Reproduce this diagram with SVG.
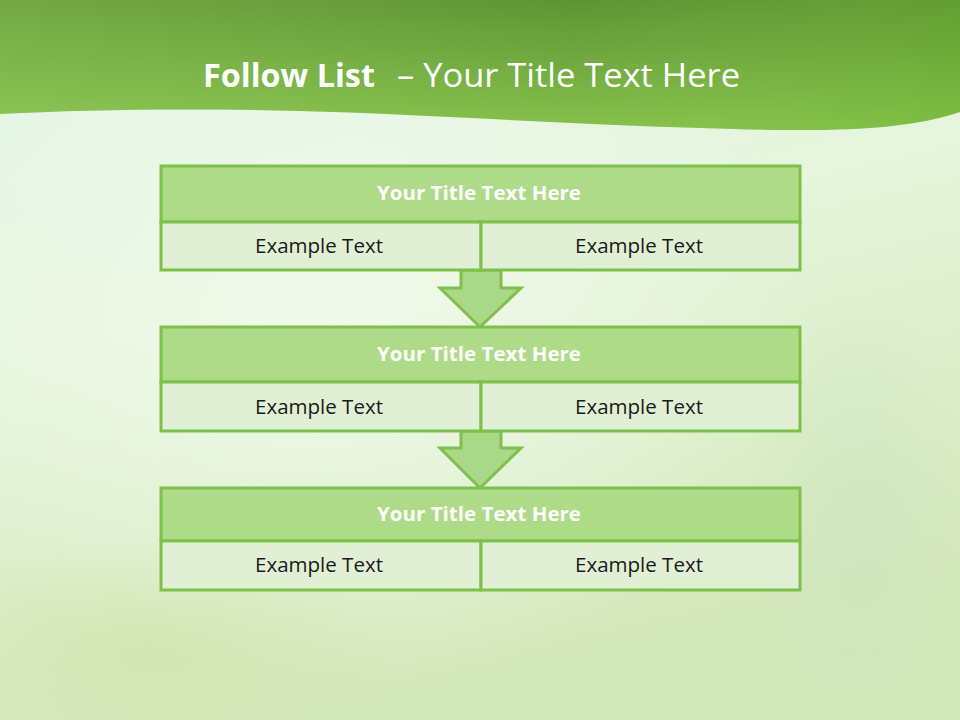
<svg xmlns="http://www.w3.org/2000/svg" width="960" height="720" viewBox="0 0 960 720">
<defs>
<linearGradient id="bg" x1="0" y1="0" x2="0.3" y2="1">
<stop offset="0" stop-color="#E2F5EA"/>
<stop offset="0.45" stop-color="#E6F5DC"/>
<stop offset="1" stop-color="#D3E8B9"/>
</linearGradient>
<radialGradient id="glow" cx="0.35" cy="0.45" r="0.5">
<stop offset="0" stop-color="#F3FBEF" stop-opacity="0.8"/>
<stop offset="1" stop-color="#F3FBEF" stop-opacity="0"/>
</radialGradient>
<radialGradient id="soft1" cx="0.5" cy="0.5" r="0.5">
<stop offset="0" stop-color="#C9E2C2" stop-opacity="0.5"/>
<stop offset="1" stop-color="#C9E2C2" stop-opacity="0"/>
</radialGradient>
<radialGradient id="soft2" cx="0.5" cy="0.5" r="0.5">
<stop offset="0" stop-color="#CBE2A2" stop-opacity="0.5"/>
<stop offset="1" stop-color="#CBE2A2" stop-opacity="0"/>
</radialGradient>
<linearGradient id="hdr" x1="0" y1="0" x2="0" y2="1">
<stop offset="0" stop-color="#5E9433"/>
<stop offset="1" stop-color="#85C24C"/>
</linearGradient>
<linearGradient id="hdr2" x1="0" y1="0" x2="1" y2="0">
<stop offset="0" stop-color="#9ACF64" stop-opacity="0.35"/>
<stop offset="0.6" stop-color="#9ACF64" stop-opacity="0"/>
<stop offset="1" stop-color="#6DB52E" stop-opacity="0.3"/>
</linearGradient>
<style>
.ttl{fill:#AEDB88;stroke:#7DC14A;stroke-width:3}
.cell{fill:#E1F0D4;stroke:#7DC14A;stroke-width:3}
.arr{fill:#A9D888;stroke:#7DC14A;stroke-width:3;stroke-linejoin:miter}
.th{font-family:"Open Sans","Liberation Sans",sans-serif;font-weight:bold;font-size:20px;fill:#FFFFFF;text-anchor:middle}
.ex{font-family:"Open Sans","Liberation Sans",sans-serif;font-size:20px;fill:#1A1A1A;text-anchor:middle}
.hd{font-family:"Open Sans","Liberation Sans",sans-serif;font-size:33px;fill:#FFFFFF}
</style>
</defs>
<rect width="960" height="720" fill="url(#bg)"/>
<rect width="960" height="720" fill="url(#glow)"/>
<ellipse cx="860" cy="520" rx="110" ry="230" fill="url(#soft1)"/>
<ellipse cx="150" cy="650" rx="260" ry="110" fill="url(#soft2)"/>
<path d="M0,0 H960 V112 C900,132 820,132 700,128 C560,124 420,114 300,111 C180,108 80,110 0,114 Z" fill="url(#hdr)"/>
<path d="M0,0 H960 V112 C900,132 820,132 700,128 C560,124 420,114 300,111 C180,108 80,110 0,114 Z" fill="url(#hdr2)"/>
<text class="hd" x="203" y="87" font-weight="bold" textLength="172" lengthAdjust="spacingAndGlyphs">Follow List</text>
<text class="hd" x="397" y="87" textLength="343" lengthAdjust="spacingAndGlyphs">– Your Title Text Here</text>
<g id="connectors">
<path class="arr" d="M461,270 V288 H440 L480,327 L521,288 H501 V270 Z"/>
<path class="arr" d="M461,431 V448 H440 L480,488 L521,448 H501 V431 Z"/>
</g>
<g id="box1">
<rect class="ttl" x="161" y="166" width="639" height="56"/>
<rect class="cell" x="161" y="222" width="320" height="48"/>
<rect class="cell" x="481" y="222" width="319" height="48"/>
<text class="th" x="479" y="200" textLength="204" lengthAdjust="spacingAndGlyphs">Your Title Text Here</text>
<text class="ex" x="319" y="253" textLength="128" lengthAdjust="spacingAndGlyphs">Example Text</text>
<text class="ex" x="639" y="253" textLength="128" lengthAdjust="spacingAndGlyphs">Example Text</text>
</g>
<g id="box2">
<rect class="ttl" x="161" y="327" width="639" height="55"/>
<rect class="cell" x="161" y="382" width="320" height="49"/>
<rect class="cell" x="481" y="382" width="319" height="49"/>
<text class="th" x="479" y="361" textLength="204" lengthAdjust="spacingAndGlyphs">Your Title Text Here</text>
<text class="ex" x="319" y="414" textLength="128" lengthAdjust="spacingAndGlyphs">Example Text</text>
<text class="ex" x="639" y="414" textLength="128" lengthAdjust="spacingAndGlyphs">Example Text</text>
</g>
<g id="box3">
<rect class="ttl" x="161" y="488" width="639" height="53"/>
<rect class="cell" x="161" y="541" width="320" height="49"/>
<rect class="cell" x="481" y="541" width="319" height="49"/>
<text class="th" x="479" y="521" textLength="204" lengthAdjust="spacingAndGlyphs">Your Title Text Here</text>
<text class="ex" x="319" y="572" textLength="128" lengthAdjust="spacingAndGlyphs">Example Text</text>
<text class="ex" x="639" y="572" textLength="128" lengthAdjust="spacingAndGlyphs">Example Text</text>
</g>
</svg>
